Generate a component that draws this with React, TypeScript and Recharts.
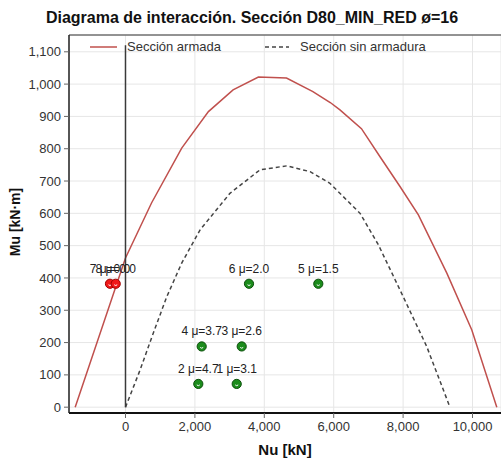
import React from "react";
import {
    ComposedChart,
    Line,
    Scatter,
    XAxis,
    YAxis,
    CartesianGrid,
    ReferenceLine,
    Legend,
} from "recharts";

// Curva de interacción de la sección armada (N en kN, M en kN·m)
const armadaN = [-1450, 0, 750, 1620, 2390, 3100, 3830, 4640, 5400, 5900, 6180, 6800, 7330, 7910, 8440, 9260, 9980, 10700];
const armadaM = [0, 462, 632, 802, 915, 982, 1022, 1019, 977, 943, 920, 862, 776, 683, 595, 415, 239, 0];

// Curva de la sección sin armadura
const sinArmaduraN = [0, 420, 800, 1190, 1620, 2150, 3010, 3880, 4650, 5320, 5890, 6760, 7290, 7910, 8680, 9350];
const sinArmaduraM = [0, 115, 229, 342, 446, 549, 662, 735, 747, 729, 693, 600, 502, 363, 188, 0];

// Puntos de solicitación
const puntoLabel = ["1 μ=3.1", "2 μ=4.7", "3 μ=2.6", "4 μ=3.7", "5 μ=1.5", "6 μ=2.0", "7 μ=0.0", "8 μ=0.0"];
const puntoN = [3205, 2098, 3349, 2196, 5556, 3559, -447, -282];
const puntoM = [72, 72, 188, 188, 382, 382, 382, 382];
const puntoRojo = [false, false, false, false, false, false, true, true];

const xTicks = [0, 2000, 4000, 6000, 8000, 10000];
const yTicks = [0, 100, 200, 300, 400, 500, 600, 700, 800, 900, 1000, 1100];
const xDomain = [-1628, 10821];
const yDomain = [-18, 1152];

const armada = armadaN.map((n, i) => ({ n, m: armadaM[i] }));
const sinArmadura = sinArmaduraN.map((n, i) => ({ n, m: sinArmaduraM[i] }));
const puntos = puntoN.map((n, i) => ({ n, m: puntoM[i], label: puntoLabel[i], rojo: puntoRojo[i] }));

const FONT = "'Liberation Sans', Arial, sans-serif";
const fmt = (v: number) => v.toLocaleString("en-US");

const PuntoShape = (props: any) => {
    const { cx, cy, payload } = props;
    if (cx == null || cy == null) return null;
    const fill = payload.rojo ? "#f01818" : "#1c8c1c";
    const stroke = payload.rojo ? "#a00000" : "#0b4f0b";
    return (
        <g>
            <circle cx={cx} cy={cy} r={4.6} fill={fill} stroke={stroke} strokeWidth={1} />
            <path d={`M${cx - 1.5} ${cy + 1} Q${cx} ${cy + 2.5} ${cx + 1.5} ${cy + 1}`} stroke="#fff" strokeWidth={1} fill="none" />
            <text x={cx} y={cy - 15} textAnchor="middle" dominantBaseline="central" fontSize={12} fontFamily={FONT} fill="#222">
                {payload.label}
            </text>
        </g>
    );
};

const LeyendaContent = () => (
    <div style={{ display: "flex", alignItems: "center", fontFamily: FONT, fontSize: 13, color: "#333", lineHeight: "16px" }}>
        <svg width={30} height={16}>
            <line x1={2} y1={8} x2={29} y2={8} stroke="#c0504d" strokeWidth={1.5} />
        </svg>
        <span style={{ marginLeft: 9, width: 138 }}>Sección armada</span>
        <svg width={30} height={16}>
            <line x1={0} y1={8} x2={24} y2={8} stroke="#444" strokeWidth={1.5} strokeDasharray="4 3" />
        </svg>
        <span style={{ marginLeft: 5 }}>Sección sin armadura</span>
    </div>
);

export default function App() {
    return (
        <div style={{ position: "absolute", left: 0, top: 0, width: 501, height: 459, overflow: "hidden", background: "#fff" }}>
            <div
                style={{
                    position: "absolute",
                    top: 9,
                    left: 0,
                    width: 504,
                    textAlign: "center",
                    fontFamily: FONT,
                    fontWeight: "bold",
                    fontSize: 16,
                    color: "#111",
                }}
            >
                Diagrama de interacción. Sección D80_MIN_RED ø=16
            </div>
            <ComposedChart width={503} height={459} margin={{ top: 35, right: 2, bottom: 0, left: 0 }}>
                <CartesianGrid stroke="#e6e6e6" strokeWidth={1} />
                <XAxis
                    type="number"
                    dataKey="n"
                    domain={xDomain}
                    ticks={xTicks}
                    allowDataOverflow
                    tickFormatter={fmt}
                    height={46}
                    tickSize={5}
                    tickMargin={4}
                    axisLine={{ stroke: "#111", strokeWidth: 2 }}
                    tickLine={{ stroke: "#666" }}
                    tick={{ fill: "#333", fontSize: 13, fontFamily: FONT }}
                    label={() => (
                        <text x={285} y={449} textAnchor="middle" dominantBaseline="central" fontSize={15} fontWeight="bold" fontFamily={FONT} fill="#111">
                            Nu [kN]
                        </text>
                    )}
                />
                <YAxis
                    type="number"
                    dataKey="m"
                    domain={yDomain}
                    ticks={yTicks}
                    allowDataOverflow
                    tickFormatter={fmt}
                    width={69}
                    tickSize={5}
                    tickMargin={3}
                    axisLine={{ stroke: "#222", strokeWidth: 1.5 }}
                    tickLine={{ stroke: "#666" }}
                    tick={{ fill: "#333", fontSize: 13, fontFamily: FONT }}
                    label={() => (
                        <text x={15} y={222} transform="rotate(-90 15 222)" textAnchor="middle" dominantBaseline="central" fontSize={14} fontWeight="bold" fontFamily={FONT} fill="#111">
                            Mu [kN·m]
                        </text>
                    )}
                />
                <ReferenceLine y={yDomain[1]} stroke="#333" strokeWidth={1} />
                <Line
                    data={sinArmadura}
                    dataKey="m"
                    type="linear"
                    stroke="#444"
                    strokeWidth={1.5}
                    strokeDasharray="4 3"
                    dot={false}
                    isAnimationActive={false}
                    name="Sección sin armadura"
                />
                <Line
                    data={armada}
                    dataKey="m"
                    type="linear"
                    stroke="#c0504d"
                    strokeWidth={1.5}
                    dot={false}
                    isAnimationActive={false}
                    name="Sección armada"
                />
                <ReferenceLine segment={[{ x: 0, y: 0 }, { x: 0, y: 1120 }]} stroke="#3a3a3a" strokeWidth={1.5} />
                <Scatter data={puntos} dataKey="m" shape={PuntoShape} isAnimationActive={false} />
                <Legend
                    layout="horizontal"
                    verticalAlign="middle"
                    align="center"
                    content={LeyendaContent}
                    wrapperStyle={{ top: 39, left: 88, width: "auto", height: "auto" }}
                />
            </ComposedChart>
        </div>
    );
}
